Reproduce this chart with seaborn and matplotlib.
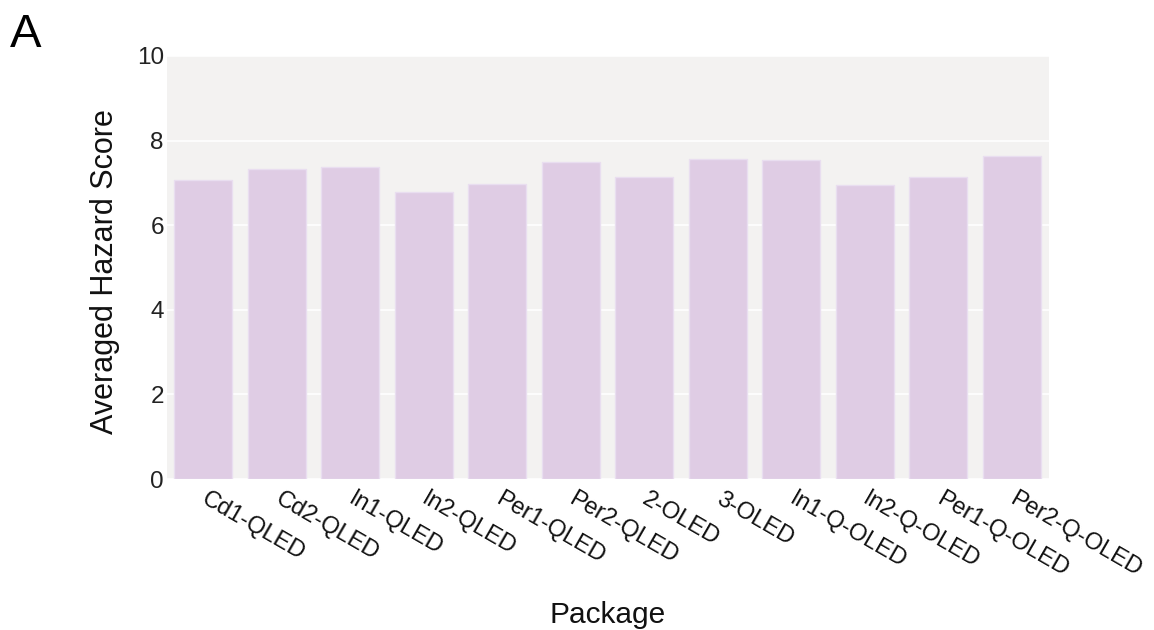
import matplotlib
matplotlib.use("Agg")
import matplotlib.pyplot as plt
import seaborn as sns
import pandas as pd

packages = ["Cd1-QLED", "Cd2-QLED", "In1-QLED", "In2-QLED", "Per1-QLED", "Per2-QLED",
            "2-OLED", "3-OLED", "In1-Q-OLED", "In2-Q-OLED", "Per1-Q-OLED", "Per2-Q-OLED"]
hazard_scores = [7.08, 7.33, 7.38, 6.79, 6.98, 7.49, 7.14, 7.56, 7.53, 6.94, 7.13, 7.64]
y_ticks = [0, 2, 4, 6, 8, 10]

df = pd.DataFrame({"Package": packages, "Score": hazard_scores})

sns.set_theme(style="white")
plt.rcParams["font.family"] = ["Liberation Sans", "DejaVu Sans"]

W, H = 1154, 630
fig = plt.figure(figsize=(W / 100, H / 100), dpi=100)
ax_left, ax_bottom, ax_w, ax_h = 166.6, 479, 882, 423
ax = fig.add_axes([ax_left / W, 1 - ax_bottom / H, ax_w / W, ax_h / H])
ax.set_facecolor("#f3f2f1")

sns.barplot(data=df, x="Package", y="Score", ax=ax, color="#dfcce4",
            saturation=1, width=0.79, edgecolor="#e9def0", linewidth=1.0)

ax.set_ylim(0, 10)
ax.set_xlim(-0.5, len(packages) - 0.5)
ax.set_yticks(y_ticks)
ax.grid(axis="y", color="white", linewidth=1.2)
ax.set_axisbelow(True)
for s in ax.spines.values():
    s.set_visible(False)

ax.tick_params(axis="y", length=0, pad=2, labelsize=17.5, labelcolor="#222222")
ax.tick_params(axis="x", length=0, pad=13.5, labelsize=17, labelcolor="#111111")
for lab in ax.get_xticklabels():
    lab.set_rotation(-30)
    lab.set_ha("left")
    lab.set_va("center")
    lab.set_rotation_mode("anchor")

ax.set_xlabel("Package", fontsize=21.5, color="#111111")
ax.set_ylabel("Averaged Hazard Score", fontsize=22, color="#111111")
ax.xaxis.label.set_va("baseline")
ax.yaxis.label.set_va("baseline")
ax.xaxis.set_label_coords(0.5, -(622.7 - ax_bottom) / ax_h)
ax.yaxis.set_label_coords((112.7 - ax_left) / ax_w, 0.49)

fig.text(10 / W, 1 - 46.7 / H, "A", fontsize=34, color="black", ha="left", va="baseline")

fig.savefig("out.png", dpi=100)
